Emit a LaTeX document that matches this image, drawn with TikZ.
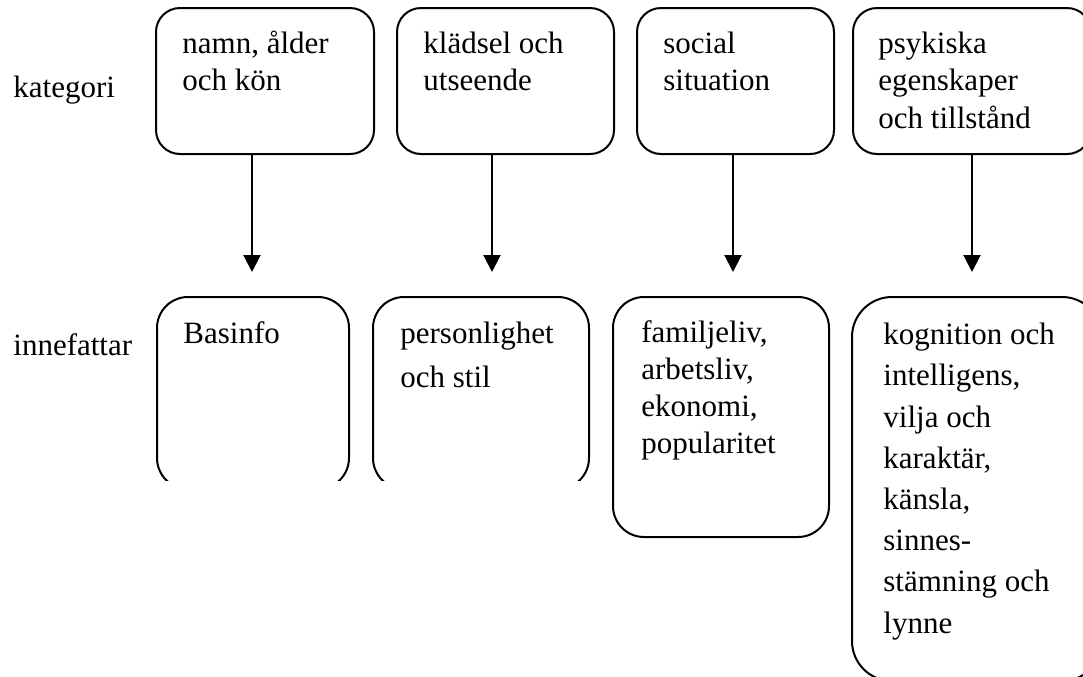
\documentclass[tikz,border=0pt]{standalone}
\usepackage{fontspec}
\setmainfont{Liberation Serif}
\usetikzlibrary{arrows.meta}
\tikzset{
  box/.style={draw, line width=1pt, rectangle, inner sep=0pt, anchor=north west},
  tbox/.style={box, rounded corners=12pt, minimum height=73pt},
  txt/.style={anchor=base west, inner sep=0pt, align=left, font=\fontsize{15.5}{18.4}\selectfont},
  arr/.style={line width=1pt, -{Triangle[length=8.5pt, width=8.5pt]}}
}
\begin{document}
\begin{tikzpicture}[x=0.5pt, y=-0.5pt]
\useasboundingbox (0,0) rectangle (1083,676);
\clip (0,0) rectangle (1083,676);
% top boxes
\node[tbox, minimum width=109pt] (t1) at (155,7) {};
\node[tbox, minimum width=108.5pt] (t2) at (396,7) {};
\node[tbox, minimum width=98.5pt] (t3) at (636,7) {};
\node[tbox, minimum width=119pt] (t4) at (852,7) {};
% bottom boxes
\begin{scope}
\clip (0,0) rectangle (1083,480);
\node[box, rounded corners=15.5pt, minimum width=96pt, minimum height=96pt] (b1) at (156,296) {};
\node[box, rounded corners=15.5pt, minimum width=108pt, minimum height=96pt] (b2) at (372,296) {};
\end{scope}
\node[box, rounded corners=15.5pt, minimum width=108pt, minimum height=120pt] (b3) at (612,296) {};
\node[box, rounded corners=20pt, minimum width=125pt, minimum height=192pt] (b4) at (851,296) {};
% texts (anchored at the baseline of their last line)
\node[txt] (lk) at (13,97) {kategori};
\node[txt] (li) at (13,355) {innefattar};
\node[txt] (x1) at (182,90) {namn, ålder\\och kön};
\node[txt] (x2) at (423,90) {klädsel och\\utseende};
\node[txt] (x3) at (663,90) {social\\situation};
\node[txt, font=\fontsize{15.5}{18.75}\selectfont] (x4) at (878,128) {psykiska\\egenskaper\\och tillstånd};
\node[txt] (y1) at (183,343) {Basinfo};
\node[txt, font=\fontsize{15.5}{22}\selectfont] (y2) at (400,387) {personlighet\\och stil};
\node[txt] (y3) at (641,453) {familjeliv,\\arbetsliv,\\ekonomi,\\popularitet};
\node[txt, font=\fontsize{15.5}{20.6}\selectfont] (y4) at (883,633) {kognition och\\intelligens,\\vilja och\\karaktär,\\känsla,\\sinnes-\\stämning och\\lynne};
% arrows
\coordinate (h1) at (252,272);
\coordinate (h2) at (492,272);
\coordinate (h3) at (733,272);
\coordinate (h4) at (972,272);
\draw[arr] (t1.south -| h1) -- (h1);
\draw[arr] (t2.south -| h2) -- (h2);
\draw[arr] (t3.south -| h3) -- (h3);
\draw[arr] (t4.south -| h4) -- (h4);
\end{tikzpicture}
\end{document}
